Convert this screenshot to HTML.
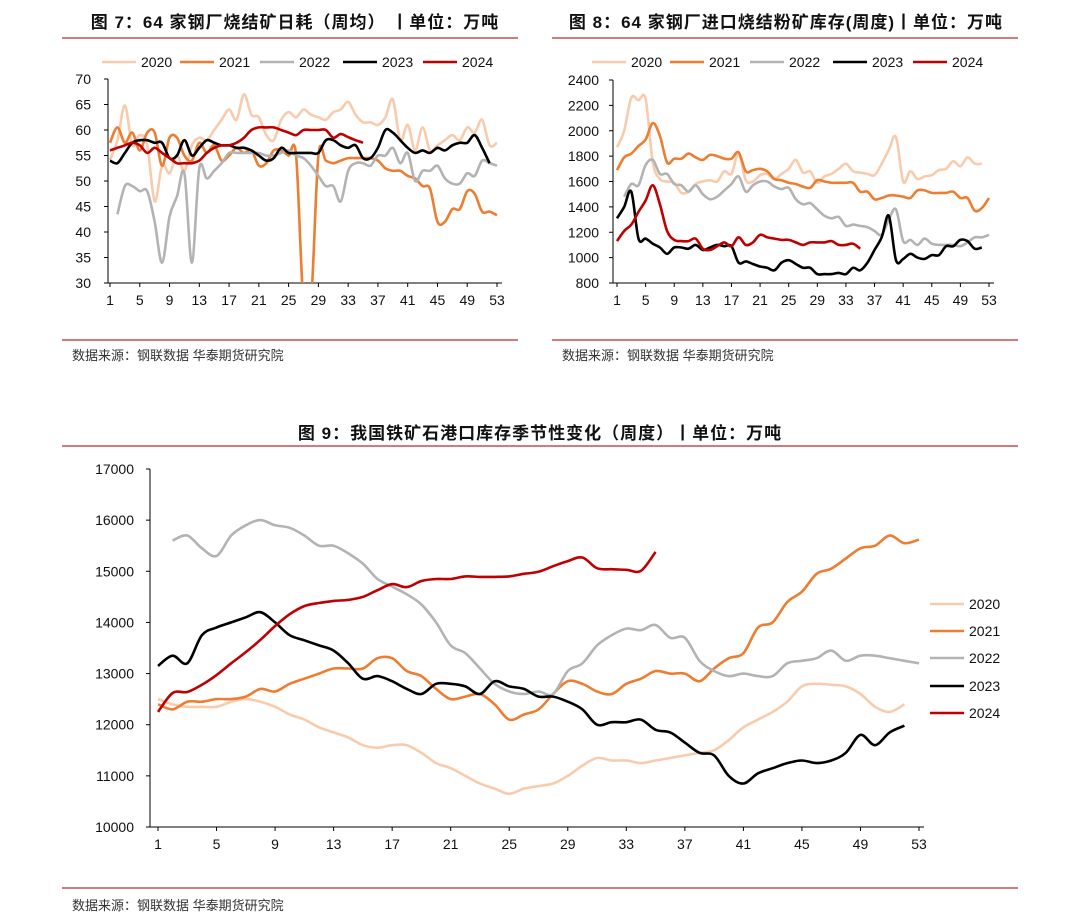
<!DOCTYPE html>
<html><head><meta charset="utf-8">
<style>
body{margin:0;background:#fff;width:1080px;height:922px;overflow:hidden;font-family:"Liberation Sans","Noto Sans CJK SC",sans-serif;}
svg{position:absolute;left:0;top:0}
.tt{letter-spacing:1px}
</style></head>
<body>
<svg id="s" width="1080" height="922">
  <g>
    <text class="tt" x="295" y="28" text-anchor="middle" font-size="17" font-weight="bold" fill="#111">图 7：64 家钢厂烧结矿日耗（周均）  丨单位：万吨</text>
    <line x1="62" y1="38" x2="518" y2="38" stroke="#c0504d" stroke-width="1.5"/>
  </g>
  <g>
    <text class="tt" x="786" y="28" text-anchor="middle" font-size="17" font-weight="bold" fill="#111">图 8：64 家钢厂进口烧结粉矿库存(周度)丨单位：万吨</text>
    <line x1="552" y1="38" x2="1018" y2="38" stroke="#c0504d" stroke-width="1.5"/>
  </g>
  <line x1="62" y1="340" x2="518" y2="340" stroke="#c0504d" stroke-width="1.5"/>
  <text x="72" y="360" font-size="13" fill="#333">数据来源：钢联数据  华泰期货研究院</text>
  <line x1="552" y1="340" x2="1018" y2="340" stroke="#c0504d" stroke-width="1.5"/>
  <text x="562" y="360" font-size="13" fill="#333">数据来源：钢联数据  华泰期货研究院</text>
  <text class="tt" x="540" y="439" text-anchor="middle" font-size="17" font-weight="bold" fill="#111">图 9：我国铁矿石港口库存季节性变化（周度）丨单位：万吨</text>
  <line x1="62" y1="446" x2="1018" y2="446" stroke="#c0504d" stroke-width="1.5"/>
  <line x1="62" y1="888" x2="1018" y2="888" stroke="#c0504d" stroke-width="1.5"/>
  <text x="72" y="910" font-size="13" fill="#333">数据来源：钢联数据  华泰期货研究院</text>
</svg>
<script>
const years = ["2020","2021","2022","2023","2024"];
const colors = ["#f8cbad","#ed7d31","#b3b3b3","#000000","#c00000"];
const xTicks = [1,5,9,13,17,21,25,29,33,37,41,45,49,53];

// Figure 7 data (starting week per series)
const c1Start = [1,1,2,1,1];
const c1_2020 = [54.2,58,64.8,57,59,57,46,53,51.5,55,52,57,58.5,58,60,62,64,62,67,63,62.5,59,58,62,63.5,62.5,64,63,62.5,62,63.5,64,65.5,63,61.5,61.5,61,62.5,66,58,61,56,60.5,56,57,58,59,58,60.5,59.5,62,57,57.5];
const c1_2021 = [57.5,60.5,57.5,59.5,56,59.5,59.5,53,58.5,58.5,55,54,57.5,55.5,57,54,55,56.5,55.5,56,53,53.5,56,56,55,55,26,26,55,54,53.5,54,54.5,54.5,54.5,54.5,54,52.5,52,52,51,50.5,49,48.5,42,42,44.5,44.5,48,47.5,44,44,43.3];
const c1_2022 = [43.5,49,49,48,48,42,34,43,47,51.5,34,52.5,50.5,52,53.5,55.5,55.5,55.5,55.5,55.5,55,55,55.5,56,55,54.5,53,51,49,49,46,52,53.5,53.5,53,55,55,56.5,53.5,55.5,50,52,52,53,50.5,49.5,49.5,51.5,51,54,53.5,53];
const c1_2023 = [54,53.5,55.5,57.5,58,58,57.5,57.5,54.5,55,58,55,56.5,58,57.5,57,57,56.5,56.5,56,55,54,54.5,56.5,55.5,55.5,55.5,55.5,55.5,58,58,57,56.5,57,54.5,54.5,56.5,60,59.5,58,56.5,55.5,56,55.5,56.5,56,57,57.5,57.5,59,56.5,53.5];
const c1_2024 = [56,56.5,57,57.5,57,55.5,56.5,55.5,54.5,53.5,53.5,53.5,54,55.5,56.5,57,57,57.5,58.5,60,60.5,60.5,60.5,60,59.5,59,60,60,60,60,58.5,59.2,58.6,58,57.5];
const c1Ticks = [30,35,40,45,50,55,60,65,70];

// Figure 8 data
const c2Start = [1,1,2,1,1];
const c2_2020 = [1870,2000,2260,2240,2250,1750,1620,1600,1590,1510,1520,1580,1600,1610,1600,1680,1660,1820,1610,1600,1650,1660,1620,1660,1700,1770,1670,1680,1590,1640,1660,1700,1740,1680,1670,1660,1650,1740,1850,1950,1600,1680,1620,1640,1650,1690,1700,1760,1720,1790,1740,1740];
const c2_2021 = [1690,1790,1820,1880,1930,2060,1960,1750,1780,1780,1820,1790,1770,1810,1800,1780,1780,1830,1680,1690,1700,1680,1620,1610,1590,1580,1560,1550,1610,1600,1590,1590,1590,1590,1520,1520,1460,1470,1490,1490,1480,1470,1530,1530,1510,1510,1510,1520,1470,1470,1370,1390,1470];
const c2_2022 = [1480,1580,1570,1730,1770,1660,1660,1580,1570,1520,1570,1500,1460,1480,1530,1580,1640,1520,1570,1600,1600,1560,1540,1550,1460,1420,1430,1380,1330,1310,1320,1250,1260,1250,1240,1210,1180,1300,1380,1130,1140,1100,1150,1110,1100,1100,1100,1090,1120,1160,1160,1180];
const c2_2023 = [1310,1400,1520,1150,1150,1110,1080,1030,1080,1080,1070,1100,1060,1080,1100,1090,1090,960,970,950,930,920,900,960,980,950,920,920,870,870,870,880,870,920,900,960,1060,1160,1330,980,990,1030,1000,990,1020,1020,1090,1090,1140,1130,1070,1080];
const c2_2024 = [1130,1210,1260,1360,1450,1570,1420,1210,1140,1130,1130,1150,1070,1060,1090,1120,1090,1160,1100,1120,1180,1160,1150,1140,1140,1120,1100,1120,1120,1120,1130,1100,1100,1110,1070];
const c2Ticks = [800,1000,1200,1400,1600,1800,2000,2200,2400];

// Figure 9 data
const c3Start = [1,1,2,1,1];
const c3_2020 = [12500,12400,12350,12350,12350,12450,12500,12450,12350,12200,12100,11950,11850,11750,11600,11550,11600,11600,11450,11250,11150,11000,10850,10750,10650,10750,10800,10850,11000,11200,11350,11300,11300,11250,11300,11350,11400,11450,11500,11700,11950,12100,12250,12450,12750,12800,12780,12750,12600,12350,12250,12400];
const c3_2021 = [12400,12300,12450,12450,12500,12500,12550,12700,12650,12800,12900,13000,13100,13100,13100,13300,13300,13050,12950,12700,12500,12550,12600,12400,12100,12200,12300,12600,12850,12800,12650,12600,12800,12900,13050,13000,13000,12850,13100,13300,13400,13900,14000,14400,14600,14950,15050,15250,15450,15500,15700,15550,15620];
const c3_2022 = [15600,15700,15450,15300,15700,15900,16000,15900,15850,15700,15500,15500,15350,15150,14850,14700,14550,14350,14000,13550,13400,13100,12800,12650,12600,12650,12600,13050,13200,13550,13750,13880,13850,13950,13700,13700,13250,13050,12950,13000,12950,12950,13200,13250,13300,13450,13250,13350,13350,13300,13250,13200];
const c3_2023 = [13150,13350,13200,13750,13900,14000,14100,14200,14000,13750,13650,13550,13450,13200,12900,12950,12850,12700,12600,12800,12800,12750,12600,12850,12750,12700,12550,12550,12450,12300,12000,12050,12050,12100,11900,11850,11650,11450,11400,11000,10850,11050,11150,11250,11300,11250,11300,11450,11800,11600,11850,11980];
const c3_2024 = [12250,12620,12640,12780,12970,13200,13420,13660,13930,14160,14320,14380,14420,14440,14500,14630,14750,14690,14810,14850,14850,14900,14890,14890,14900,14950,14990,15100,15200,15270,15060,15040,15030,15010,15380];
const c3Ticks = [10000,11000,12000,13000,14000,15000,16000,17000];

const NS="http://www.w3.org/2000/svg";
const svg=document.getElementById('s');
function mk(tag,attrs,parent){const e=document.createElementNS(NS,tag);for(const k in attrs)e.setAttribute(k,attrs[k]);(parent||svg).appendChild(e);return e;}
function smooth(pts){
  if(pts.length<2)return '';
  let d='M'+pts[0][0].toFixed(1)+','+pts[0][1].toFixed(1);
  for(let i=0;i<pts.length-1;i++){
    const p0=pts[i-1]||pts[i],p1=pts[i],p2=pts[i+1],p3=pts[i+2]||p2;
    const c1x=p1[0]+(p2[0]-p0[0])/6,c1y=p1[1]+(p2[1]-p0[1])/6;
    const c2x=p2[0]-(p3[0]-p1[0])/6,c2y=p2[1]-(p3[1]-p1[1])/6;
    d+=' C'+c1x.toFixed(1)+','+c1y.toFixed(1)+' '+c2x.toFixed(1)+','+c2y.toFixed(1)+' '+p2[0].toFixed(1)+','+p2[1].toFixed(1);
  }
  return d;
}
let clipId=0;
function chart(cfg){
  const g=mk('g',{});
  
  
  const ymin=cfg.ticks[0],ymax=cfg.ticks[cfg.ticks.length-1];
  const sx=w=>cfg.x0+(w-1)*(cfg.x1-cfg.x0)/52;
  const sy=v=>cfg.yb-(v-ymin)*(cfg.yb-cfg.yt)/(ymax-ymin);
  const ax=mk('g',{},g);
  
  
  mk('line',{x1:cfg.ax,y1:cfg.yt,x2:cfg.ax,y2:cfg.yb,stroke:'#000','stroke-width':1},ax);
  cfg.ticks.forEach(t=>{
    mk('line',{x1:cfg.ax-4,y1:sy(t),x2:cfg.ax,y2:sy(t),stroke:'#000'},ax);
    const tx=mk('text',{x:cfg.ax-cfg.lblGap,y:sy(t)+5,'text-anchor':'end','font-size':14,fill:'#111'},ax);
    tx.textContent=t;
    
    
  });
  const xa=mk('g',{},g);
  
  
  mk('line',{x1:cfg.ax,y1:cfg.yb,x2:cfg.x1+5,y2:cfg.yb,stroke:'#000'},xa);
  xTicks.forEach(t=>{
    mk('line',{x1:sx(t),y1:cfg.yb,x2:sx(t),y2:cfg.yb+4,stroke:'#000'},xa);
    const tx=mk('text',{x:sx(t),y:cfg.yb+22,'text-anchor':'middle','font-size':14,fill:'#111'},xa);
    tx.textContent=t;
    
    
  });
  const id='c'+(clipId++);
  const cp=mk('clipPath',{id:id},g);
  mk('rect',{x:cfg.ax,y:cfg.yt-10,width:cfg.x1-cfg.ax+20,height:cfg.yb-cfg.yt+10},cp);
  cfg.series.forEach((arr,i)=>{
    const pts=arr.map((v,j)=>[sx(cfg.starts[i]+j),sy(v)]);
    const p=mk('path',{d:smooth(pts),fill:'none',stroke:colors[i],'stroke-width':2.6,'stroke-linejoin':'round','clip-path':'url(#'+id+')'},g);
    
    
  });
  cfg.legend.forEach((pos,i)=>{
    const lg=mk('g',{},g);
    
    
    mk('line',{x1:pos[0],y1:pos[1],x2:pos[0]+34,y2:pos[1],stroke:colors[i],'stroke-width':2.6},lg);
    const tx=mk('text',{x:pos[0]+39,y:pos[1]+5,'font-size':14,fill:'#111'},lg);
    tx.textContent=years[i];
  });
}
const leg1=[[102,62],[180,62],[260,62],[343,62],[423,62]];
chart({name:'figure-7-chart',ax:108,x0:110,x1:497,yt:79,yb:283,ticks:c1Ticks,lblGap:17,starts:c1Start,
  series:[c1_2020,c1_2021,c1_2022,c1_2023,c1_2024],legend:leg1});
chart({name:'figure-8-chart',ax:613,x0:617,x1:989,yt:80,yb:283,ticks:c2Ticks,lblGap:14,starts:c2Start,
  series:[c2_2020,c2_2021,c2_2022,c2_2023,c2_2024],legend:leg1.map(p=>[p[0]+490,p[1]])});
chart({name:'figure-9-chart',ax:150,x0:158,x1:919,yt:469,yb:827,ticks:c3Ticks,lblGap:16,starts:c3Start,
  series:[c3_2020,c3_2021,c3_2022,c3_2023,c3_2024],legend:[[930,604],[930,631],[930,658],[930,686],[930,713]]});
</script>
</body></html>
